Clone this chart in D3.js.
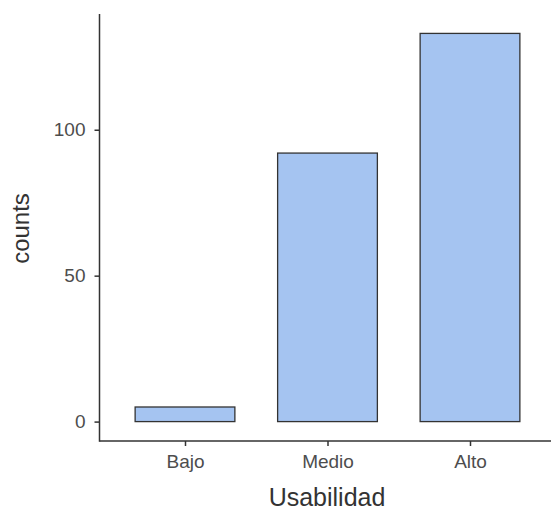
<!DOCTYPE html>
<html><head><meta charset="utf-8">
<script src="https://cdn.jsdelivr.net/npm/d3@7"></script>
<style>body{margin:0;background:#fff}svg{display:block}text{font-family:"Liberation Sans",Arial,sans-serif}</style>
</head><body>
<svg id="c" width="551" height="511"></svg>
<script>
const categories = ["Bajo", "Medio", "Alto"];
const counts = [5, 92, 133];
const yTicks = [0, 50, 100];
const xTitle = "Usabilidad";
const yTitle = "counts";

(function () {
const svg = d3.select("#c");
const pLeft = 99.5, pRight = 555.5, pTop = 14, pBottom = 441;
const x = d3.scalePoint().domain(categories).range([pLeft, pRight]).padding(0.6);
const bw = x.step() * 0.7;
const y = d3.scaleLinear().domain([-6.65, 139.65]).range([pBottom, pTop]);

svg.selectAll("rect.bar").data(categories).enter().append("rect")
  .attr("class", "bar")
  .attr("x", d => x(d) - bw / 2)
  .attr("width", bw)
  .attr("y", (d, i) => y(counts[i]))
  .attr("height", (d, i) => y(0) - y(counts[i]))
  .attr("fill", "#a5c4f1")
  .attr("stroke", "#333333")
  .attr("stroke-width", 1.3);

const yAxis = svg.append("g").attr("transform", `translate(${pLeft},0)`)
  .call(d3.axisLeft(y).tickValues(yTicks).tickSize(5).tickPadding(9));
const xAxis = svg.append("g").attr("transform", `translate(0,${pBottom})`)
  .call(d3.axisBottom(x).tickSize(5).tickPadding(9));
[yAxis, xAxis].forEach(a => {
  a.select(".domain").remove();
  a.selectAll("line").attr("stroke", "#333").attr("stroke-width", 1.5);
  a.selectAll("text").attr("fill", "#4d4d4d").style("font-size", "19px");
});
svg.append("line").attr("x1", pLeft).attr("x2", pLeft).attr("y1", pTop).attr("y2", pBottom + 0.75)
  .attr("stroke", "#333").attr("stroke-width", 1.5);
svg.append("line").attr("x1", pLeft).attr("x2", 551).attr("y1", pBottom).attr("y2", pBottom)
  .attr("stroke", "#333").attr("stroke-width", 1.5);

svg.append("text").attr("x", (pLeft + pRight) / 2 - 0.5).attr("y", 506)
  .attr("text-anchor", "middle").attr("fill", "#333").style("font-size", "25px").text(xTitle);
svg.append("text").attr("transform", `translate(29,${(pTop + pBottom) / 2 + 1}) rotate(-90)`)
  .attr("text-anchor", "middle").attr("fill", "#333").style("font-size", "24px").text(yTitle);
})();
</script>
</body></html>
